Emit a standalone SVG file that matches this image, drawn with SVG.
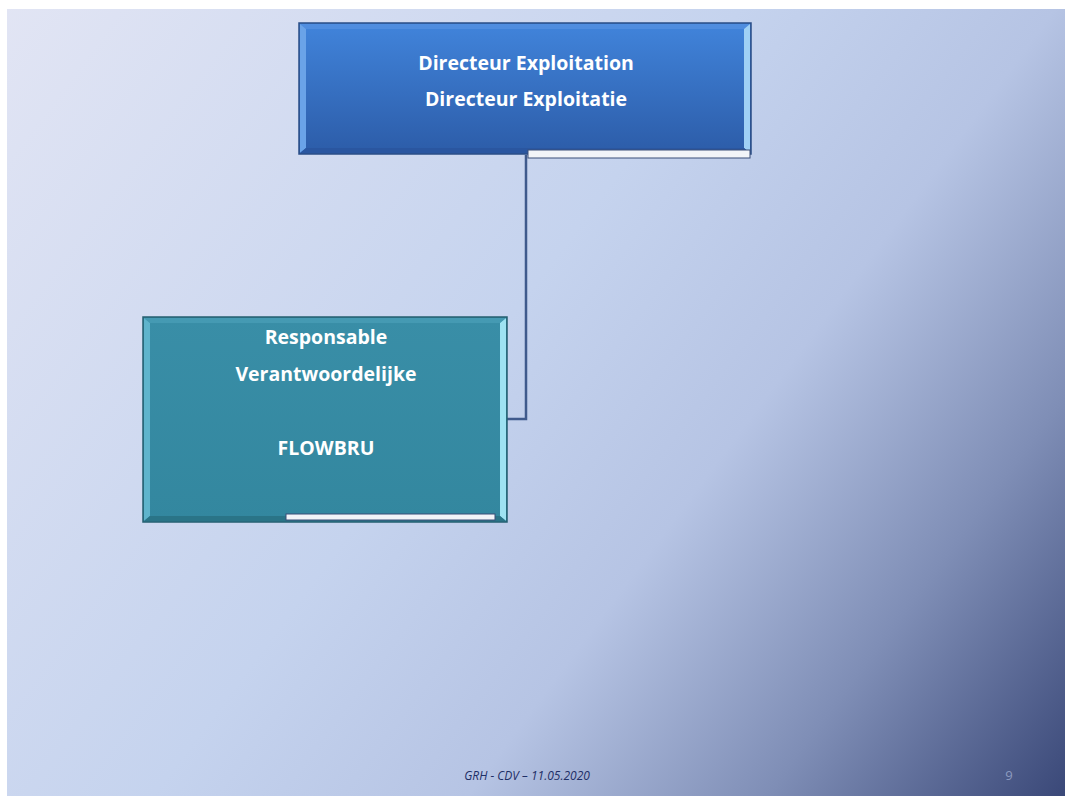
<svg xmlns="http://www.w3.org/2000/svg" width="1065" height="796" viewBox="0 0 1065 796">
<style>
.t{font-family:"Open Sans","Liberation Sans",sans-serif;font-weight:bold;fill:#ffffff;text-anchor:middle}
.conn{fill:none;stroke:#3f5a8c;stroke-width:2.5}
.bar{fill:#f2f4f8;stroke:#3a4f78;stroke-width:1}
</style>
<defs>
<linearGradient id="bg" x1="0" y1="0" x2="1065" y2="796" gradientUnits="userSpaceOnUse">
<stop offset="0" stop-color="#e2e5f4"/>
<stop offset="0.45" stop-color="#c5d3ee"/>
<stop offset="0.64" stop-color="#b6c4e4"/>
<stop offset="0.82" stop-color="#7f8eb6"/>
<stop offset="1" stop-color="#3a4878"/>
</linearGradient>
<linearGradient id="blue" x1="0" y1="0" x2="0" y2="1">
<stop offset="0" stop-color="#4184db"/>
<stop offset="1" stop-color="#2c5ca8"/>
</linearGradient>
<linearGradient id="teal" x1="0" y1="0" x2="0" y2="1">
<stop offset="0" stop-color="#398ea7"/>
<stop offset="1" stop-color="#33879f"/>
</linearGradient>
</defs>
<rect x="0" y="0" width="1065" height="796" fill="#ffffff"/>
<rect x="7" y="9" width="1058" height="787" fill="url(#bg)"/>
<g id="connectors">
<polyline class="conn" points="526,155 526,419 507,419"/>
</g>
<g id="node-directeur">
<rect x="299" y="23" width="452" height="131" fill="url(#blue)" stroke="#2a4d86" stroke-width="1.5"/>
<polygon points="300,24 750,24 744,29 306,29" fill="#5a95e2" opacity="0.6"/>
<polygon points="300,24 306,29 306,148 300,153" fill="#6aa3e8"/>
<polygon points="750,24 744,29 744,148 750,153" fill="#9fd0f5"/>
<polygon points="300,153 306,148 744,148 750,153" fill="#2a56a0"/>
<rect class="bar" x="528" y="150" width="222" height="8"/>
<text class="t" x="526" y="70" font-size="19.5">Directeur Exploitation</text>
<text class="t" x="526" y="106" font-size="19.5">Directeur Exploitatie</text>
</g>
<g id="node-responsable">
<rect x="143" y="317" width="364" height="205" fill="url(#teal)" stroke="#255f70" stroke-width="1.5"/>
<polygon points="144,318 150,323 150,516 144,521" fill="#5fb4cc"/>
<polygon points="506,318 500,323 500,516 506,521" fill="#9ee2f2"/>
<polygon points="144,318 506,318 500,323 150,323" fill="#4ea2ba" opacity="0.6"/>
<polygon points="144,521 150,516 500,516 506,521" fill="#2a7487"/>
<rect class="bar" x="286" y="514" width="209" height="6"/>
<text class="t" x="326" y="344" font-size="19.5">Responsable</text>
<text class="t" x="326" y="381" font-size="19.5">Verantwoordelijke</text>
<text class="t" x="326" y="455" font-size="19.5">FLOWBRU</text>
</g>
<text x="527" y="780" font-family="'Open Sans','Liberation Sans',sans-serif" font-style="italic" font-size="12" fill="#1f2f66" text-anchor="middle">GRH - CDV – 11.05.2020</text>
<text x="1009" y="780" font-family="'Open Sans','Liberation Sans',sans-serif" font-size="13" fill="#8d9bc0" text-anchor="middle">9</text>
</svg>
